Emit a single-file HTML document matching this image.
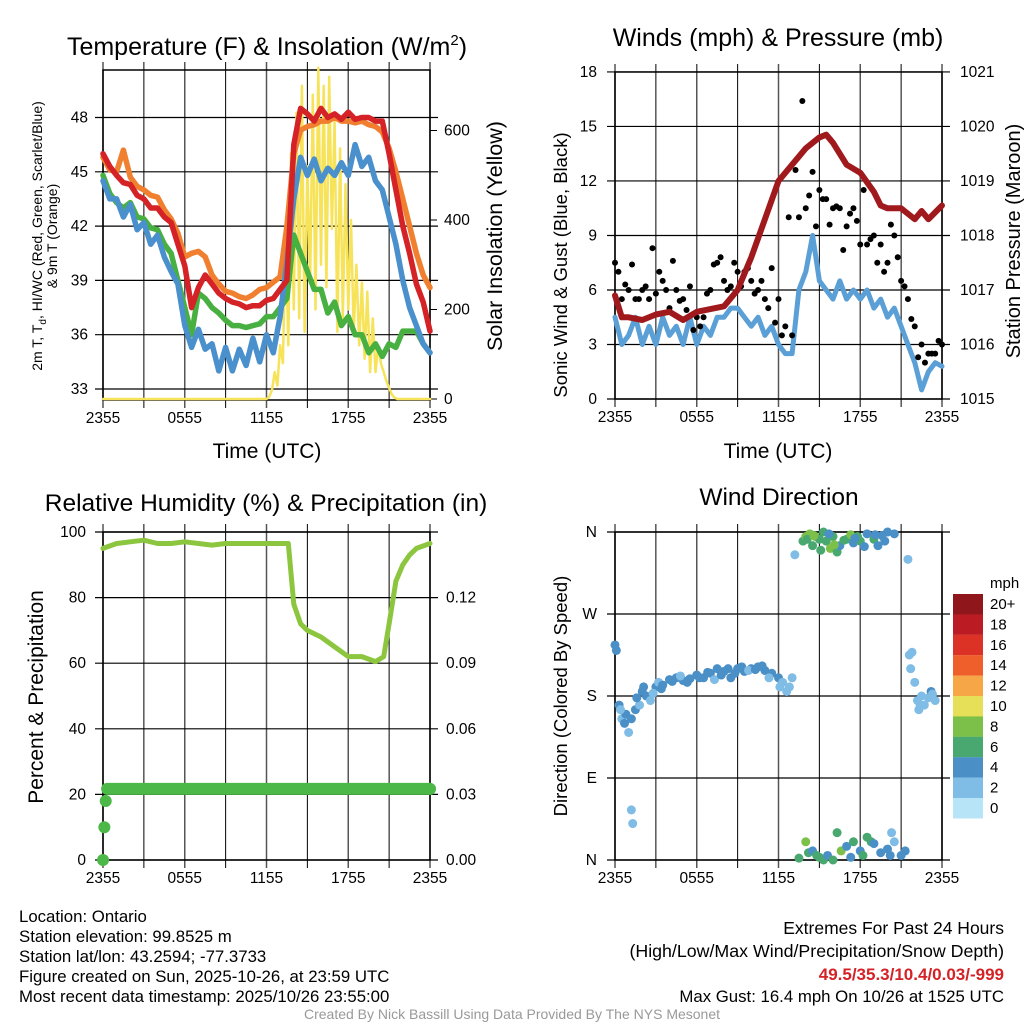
<!DOCTYPE html>
<html><head><meta charset="utf-8"><style>
body{margin:0;background:#fff}
svg text{font-family:"Liberation Sans",Arial,sans-serif;fill:#000}
</style></head><body>
<svg id="s" width="1024" height="1024" xmlns="http://www.w3.org/2000/svg"></svg>
<script>
// ---------- data ----------
const hours = [0,0.5,1,1.5,2,2.5,3,3.5,4,4.5,5,5.5,6,6.5,7,7.5,8,8.5,9,9.5,10,10.5,11,11.5,12,12.5,13,13.5,14,14.5,15,15.5,16,16.5,17,17.5,18,18.5,19,19.5,20,20.5,21,21.5,22,22.5,23,23.5,24];
const tRed =    [46,45.3,44.8,44.4,44.3,43.7,43.5,43,43,42.5,42.2,41,39.8,37.5,38.6,39.3,38.8,38.3,38,37.8,37.7,37.5,37.6,37.6,37.9,38,38.5,39,46.5,48.5,48.2,47.8,48.5,48,48.2,47.9,48.3,47.9,48,48,47.8,47.8,46,44,42,40.5,38.8,37.8,36.2];
const tOrange = [45.8,45.1,45,46.2,44.7,44.2,44,43.7,43.6,42.9,42.4,41.6,40.3,40.5,40.6,40.3,39.3,38.8,38.4,38.3,38.1,38,38.2,38.5,38.6,38.9,39.2,42,46,47.3,47.5,47.6,47.8,47.8,48,47.8,47.8,47.7,47.8,47.6,47.5,47.2,46.3,45,43.5,42,40.5,39.3,38.6];
const tGreen =  [44.8,43.8,43.3,43,43.3,42.5,42.4,41.9,41.8,41,40.5,39,37.5,36,38.3,38,37.5,37.2,36.8,36.5,36.5,36.4,36.5,36.6,37,37,37.5,38,41.5,40.5,39.5,38.5,38.5,37.2,37.8,36.5,37,36,36,35,35.5,34.8,35.5,35.3,36.2,36.2,36.2,35.5,35];
const tBlue =   [44.5,43.5,43.5,42.5,43.2,41.8,42.2,41,41.5,40.3,39.5,38.8,36.5,35.3,36.3,35.2,35.5,34,35.3,34,35.2,34.3,35.8,34.5,36,35,37,40,43.5,45.8,44.8,45.7,44.5,45.2,44.8,45.5,44.8,46.5,45.3,45.8,44.5,44,42.5,41,39,37.5,36.5,35.5,35];
const solHours = [0,12,12.2,12.4,12.6,12.8,13,13.2,13.4,13.6,13.8,14,14.2,14.4,14.6,14.8,15,15.2,15.4,15.6,15.8,16,16.2,16.4,16.6,16.8,17,17.2,17.4,17.6,17.8,18,18.2,18.4,18.6,18.8,19,19.2,19.4,19.6,19.8,20,20.2,20.4,20.6,20.8,21,21.2,21.4,21.6,24];
const solar = [0,0,5,20,60,30,120,80,380,120,550,200,640,180,700,150,520,260,680,200,740,300,700,250,720,380,620,150,560,180,480,200,400,150,300,120,260,90,240,60,180,60,120,80,60,40,25,10,3,0,0];
const wHours = [0,0.5,1,1.5,2,2.5,3,3.5,4,4.5,5,5.5,6,6.5,7,7.5,8,8.5,9,9.5,10,10.5,11,11.5,12,12.5,13,13.5,14,14.5,15,15.5,16,16.5,17,17.5,18,18.5,19,19.5,20,20.5,21,21.5,22,22.5,23,23.5,24];
const wind = [4.5,3,3.5,4.5,3,4,3,4.5,3.5,4,3,4.5,3,4,3.5,4.5,4.5,5,5,4.5,4,4.5,3.5,4,3,2.5,2.5,6,7,9,6.5,6,5.5,6.5,5.5,6,5.5,6,5,5.5,4.5,5,4,3,2,0.5,1.5,2,1.8];
const gust = [7.5,5.5,6,5.5,6,5.5,5.8,6.5,5,6,5.5,6.2,4.5,4.5,6,7.5,6.5,6.2,7,7,6.5,6,5.5,7.2,5.5,4,3.5,10,10.5,12.5,11.5,11,10.5,10.5,9.5,10.5,8.5,8.5,9,8.5,7.5,9,6.5,5.5,4,3,2.5,2.5,3];
const gust2 = [7,6.3,7.4,5.5,6.2,8.3,7,6,7.6,5.4,4.9,3.8,4,5.8,7.4,7.8,6,7.5,6.2,7.2,5.8,6.5,5,4.2,3.5,10,12.6,16.4,11.2,9.5,11,9.6,10.6,8.2,10.2,9.8,11.5,8.8,7.5,7,9.6,7.8,6.2,4.4,2.3,2,2.5,3.2];
const pHours = [0,0.5,1,2,3,4,5,6,7,8,9,10,11,12,13,14,15,15.5,16,17,18,19,19.5,20,21,22,22.5,23,24];
const pressure = [1016.9,1016.5,1016.5,1016.45,1016.55,1016.6,1016.45,1016.6,1016.65,1016.7,1017,1017.6,1018.3,1019,1019.3,1019.6,1019.8,1019.85,1019.7,1019.3,1019.15,1018.8,1018.55,1018.5,1018.5,1018.3,1018.45,1018.3,1018.55];
const rhHours = [0,1,2,3,4,5,6,7,8,9,10,11,12,13,13.6,14,14.5,15,16,17,18,19,20,20.6,21,21.5,22,22.5,23,24];
const rh = [95,96.5,97,97.5,96.5,96.5,97,96.5,96,96.5,96.5,96.5,96.5,96.5,96.5,78,72,70,68,65,62,62,60.5,62,72,85,90,93,95,96.5];
const prHours = [0,0.1,0.2,24];
const precip = [0,0.015,0.027,0.0325];
const dHours = [0,0.1,0.3,0.5,0.8,1,1.2,1.5,1.8,2,2.3,2.6,3,3.2,3.5,4,4.5,5,5.5,6,6.5,7,7.5,8,8.5,9,9.5,10,10.5,11,11.5,12,12.3,12.6,12.8,13,1.2,1.3,
 13.2,13.8,14,14.3,14.5,14.7,15,15.3,15.5,15.8,16,16.3,16.5,17,17.3,17.5,17.8,18,18.5,19,19.3,19.6,20,20.5,
 13.5,14,14.2,14.5,14.8,15,15.3,15.6,16,16.3,16.6,17,17.3,17.5,18,18.2,18.5,18.8,19,19.5,20,20.3,20.5,21,21.3,
 21.5,21.6,21.8,21.7,22,22.2,22.3,22.5,22.7,23,23.2,23.5,
 0.4,0.7,1.6,2.1,2.8,3.4,4.2,4.8,5.3,6.2,6.8,7.3,7.8,8.3,8.8,9.3,9.8,10.3,10.8,11.3,12.1,14.1,14.6,15.1,15.7,16.1,16.8,17.6,18.3,19.1,19.8,20.2,22.4,23.3];
const dirs = [236,230,170,155,160,140,155,165,170,185,180,175,190,195,192,198,200,197,199,203,200,205,210,207,200,210,207,210,212,208,205,200,195,185,190,200,55,40,
 335,350,355,358,345,355,352,360,350,342,355,338,345,352,357,348,355,350,358,352,345,356,360,358,
 2,20,8,10,5,3,0,5,0,30,10,15,3,20,10,5,25,20,18,8,12,30,20,5,10,
 330,225,228,210,195,175,165,180,170,178,185,175,
 165,150,178,190,183,188,196,202,195,200,206,198,203,210,205,212,208,209,213,200,190,352,356,340,358,346,351,353,344,357,350,5,170,182];
const dSpeeds = [4,4,3,2,3,2,3,3,2,4,3,2,4,2,4,4,4,3,4,4,3,4,4,4,3,4,4,4,4,4,3,3,2,2,2,2,2,2,
 2,6,7,8,6,7,5,6,6,7,5,6,4,6,7,4,5,6,4,5,3,4,4,3,
 6,8,5,4,6,6,6,4,6,6,7,4,4,6,4,6,6,5,4,3,3,2,2,3,3,
 1,2,1,1,2,2,2,1,1,2,3,2,
 2,4,3,4,2,3,4,2,4,3,4,2,4,3,4,4,2,4,4,2,2,6,7,5,4,7,6,4,4,4,4,3,1,2];
const tempTicks = [33,36,39,42,45,48];
const solTicks = [0,200,400,600];
const windTicks = [0,3,6,9,12,15,18];
const presTicks = [1015,1016,1017,1018,1019,1020,1021];
const rhTicks = [0,20,40,60,80,100];
const prTicks = ["0.00","0.03","0.06","0.09","0.12"];
const dirTicks = ["N","E","S","W","N"];
const timeLabels = ["2355","0555","1155","1755","2355"];
const cbLabels = ["20+","18","16","14","12","10","8","6","4","2","0"];
const cbColors = ["#8f161b","#bb1c24","#dc3226","#ef5f2b","#f6a646","#e6e058","#7cc04a","#48a870","#4a8fc6","#7fbce6","#b8e4f7"];

// ---------- helpers ----------
const NS="http://www.w3.org/2000/svg", S=document.getElementById('s');
function mk(tag,attrs,parent){const e=document.createElementNS(NS,tag);for(const k in attrs)e.setAttribute(k,attrs[k]);(parent||S).appendChild(e);return e;}
function txt(x,y,s,size,anchor,rot,name){const t=mk('text',{x:x,y:y,'font-size':size,'text-anchor':anchor||'middle'});if(rot)t.setAttribute('transform','rotate(-90 '+x+' '+y+')');t.innerHTML=s;


return t;}
function poly(xs,ys,fx,fy,stroke,w,name){let d='';for(let i=0;i<xs.length;i++)d+=(i?'L':'M')+fx(xs[i]).toFixed(1)+','+fy(ys[i]).toFixed(1);const p=mk('path',{d:d,fill:'none',stroke:stroke,'stroke-width':w,'stroke-linejoin':'round','stroke-linecap':'round'});


return p;}
function frame(x0,y0,x1,y1,name,ytickYs){const g=mk('g',{});


for(let h=0;h<=24;h+=3){const x=x0+(x1-x0)*h/24;mk('line',{x1:x,y1:y0-8,x2:x,y2:y1+8,stroke:h%6?'#000':'#555','stroke-width':h%6?1:1.5},g);}
ytickYs.forEach(y=>mk('line',{x1:x0-8,y1:y,x2:x1+8,y2:y,stroke:'#000','stroke-width':1.2},g));
mk('rect',{x:x0,y:y0,width:x1-x0,height:y1-y0,fill:'none',stroke:'#000','stroke-width':1.5},g);
timeLabels.forEach((l,i)=>txt(x0+(x1-x0)*i/4,y1+23,l,15.5,'middle',false,'x-tick-label'));
return g;}

// ---------- panel 1 ----------
const ax1={x0:103,x1:430,y0:70,y1:400};
const X1=h=>ax1.x0+(ax1.x1-ax1.x0)*h/24;
const T1=v=>389-(v-33)*18.1;
const R1=v=>399-v*0.4475;
frame(ax1.x0,ax1.y0,ax1.x1,ax1.y1,'temp-plot-grid',tempTicks.map(T1));
tempTicks.forEach(v=>txt(88,T1(v)+5,v,15.5,'end',false,'temp-tick'));
solTicks.forEach(v=>{txt(444,R1(v)+5,v,15.5,'start',false,'solar-tick');mk('line',{x1:430,y1:R1(v),x2:437,y2:R1(v),stroke:'#000'});});
poly(solHours,solar,X1,R1,'#f7e35a',2.5,'solar-line');
poly(hours,tOrange,X1,T1,'#f08030',5.5,'temp-9m-orange');
poly(hours,tGreen,X1,T1,'#48b040',5.5,'dewpoint-green');
poly(hours,tBlue,X1,T1,'#4a90cc',5.5,'windchill-blue');
poly(hours,tRed,X1,T1,'#d42226',5.5,'temp-2m-red');
txt(267,55,'Temperature (F) &amp; Insolation (W/m<tspan dy="-10" font-size="15">2</tspan><tspan dy="10">)</tspan>',25,'middle',false,'temp-title');
txt(42,236,'2m T, T<tspan dy="4" font-size="10">d</tspan><tspan dy="-4">, HI/WC (Red, Green, Scarlet/Blue)</tspan>',14,'middle',true,'temp-y-title');
txt(57,236,'&amp; 9m T (Orange)',14,'middle',true,'temp-y-title-2');
txt(502,236,'Solar Insolation (Yellow)',21.5,'middle',true,'solar-y-title');
txt(267,458,'Time (UTC)',21,'middle',false,'x-axis-title');

// ---------- panel 2 ----------
const ax2={x0:615,x1:942,y0:72,y1:399};
const X2=h=>ax2.x0+(ax2.x1-ax2.x0)*h/24;
const W2=v=>399-v*18.17;
const P2=v=>399-(v-1015)*54.5;
frame(ax2.x0,ax2.y0,ax2.x1,ax2.y1,'wind-plot-grid',windTicks.map(W2));
windTicks.forEach(v=>txt(597,W2(v)+5,v,15.5,'end',false,'wind-tick'));
presTicks.forEach(v=>txt(960,P2(v)+5,v,15.5,'start',false,'pressure-tick'));
poly(wHours,wind,X2,W2,'#5a9fd6',5,'wind-line');
gust.forEach((g,i)=>{const c=mk('circle',{cx:X2(wHours[i]),cy:W2(g),r:3,fill:'#000'});

});
gust2.forEach((g,i)=>{const c=mk('circle',{cx:X2(wHours[i]+0.25),cy:W2(g),r:3,fill:'#000'});

});
poly(pHours,pressure,X2,P2,'#a0191c',6,'pressure-line');
txt(778,46,'Winds (mph) &amp; Pressure (mb)',25,'middle',false,'wind-title');
txt(567,265,'Sonic Wind &amp; Gust (Blue, Black)',18.5,'middle',true,'wind-y-title');
txt(1020,241,'Station Pressure (Maroon)',20,'middle',true,'pressure-y-title');
txt(778,458,'Time (UTC)',21,'middle',false,'x-axis-title-2');

// ---------- panel 3 ----------
const ax3={x0:103,x1:430,y0:532,y1:860};
const X3=h=>ax3.x0+(ax3.x1-ax3.x0)*h/24;
const H3=v=>860-v*3.28;
const Q3=v=>860-v/0.15*328;
frame(ax3.x0,ax3.y0,ax3.x1,ax3.y1,'rh-plot-grid',rhTicks.map(H3));
rhTicks.forEach(v=>txt(86,H3(v)+5,v,15.5,'end',false,'rh-tick'));
prTicks.forEach(v=>txt(446,Q3(+v)+5,v,15.5,'start',false,'precip-tick'));
poly(rhHours,rh,X3,H3,'#8cc63f',5,'rh-line');
poly([0.3,24],[0.0325,0.0325],X3,Q3,'#4cb848',12,'precip-line');
precip.slice(0,3).forEach((v,i)=>{const c=mk('circle',{cx:X3(prHours[i]),cy:Q3(v),r:6,fill:'#4cb848'});

});
{const c=mk('circle',{cx:X3(24),cy:Q3(0.0325),r:6,fill:'#4cb848'});

}
txt(266,511,'Relative Humidity (%) &amp; Precipitation (in)',24.5,'middle',false,'rh-title');
txt(43,697,'Percent &amp; Precipitation',21,'middle',true,'rh-y-title');

// ---------- panel 4 ----------
const ax4={x0:615,x1:942,y0:532,y1:860};
const X4=h=>ax4.x0+(ax4.x1-ax4.x0)*h/24;
const D4=v=>860-v*0.9111;
frame(ax4.x0,ax4.y0,ax4.x1,ax4.y1,'direction-plot-grid',[0,90,180,270,360].map(D4));
dirTicks.forEach((l,i)=>txt(597,D4(i*90)+5,l,15.5,'end',false,'direction-tick'));
const spdColor=s=>cbColors[10-Math.min(10,Math.round(s/2))];
dirs.forEach((d,i)=>{const c=mk('circle',{cx:X4(dHours[i]),cy:D4(d),r:4.5,fill:spdColor(dSpeeds[i])});

});
txt(779,505,'Wind Direction',24.5,'middle',false,'direction-title');
txt(567,696,'Direction (Colored By Speed)',18.5,'middle',true,'direction-y-title');
// colorbar
const cb=mk('g',{});


cbColors.forEach((c,i)=>mk('rect',{x:953,y:594+i*20.4,width:30,height:20.5,fill:c},cb));
txt(990,588,'mph',15,'start',false,'colorbar-title');
cbLabels.forEach((l,i)=>txt(990,609+i*20.4,l,15,'start',false,'colorbar-label'));

// ---------- footer ----------
['Location: Ontario','Station elevation: 99.8525 m','Station lat/lon: 43.2594; -77.3733','Figure created on Sun, 2025-10-26, at 23:59 UTC','Most recent data timestamp: 2025/10/26 23:55:00'].forEach((l,i)=>txt(19,922+i*20,l,16.8,'start',false,'station-info'));
txt(1004,934,'Extremes For Past 24 Hours',17.5,'end',false,'extremes-title');
txt(1004,957,'(High/Low/Max Wind/Precipitation/Snow Depth)',17.8,'end',false,'extremes-subtitle');
const ex=txt(1004,980,'49.5/35.3/10.4/0.03/-999',17,'end',false,'extremes-values');ex.setAttribute('font-weight','bold');ex.style.fill='#d42226';
txt(1004,1002,'Max Gust: 16.4 mph On 10/26 at 1525 UTC',16.8,'end',false,'max-gust');
const cr=txt(512,1019,'Created By Nick Bassill Using Data Provided By The NYS Mesonet',14,'middle',false,'credit');cr.style.fill='#999';
</script>
</body></html>
